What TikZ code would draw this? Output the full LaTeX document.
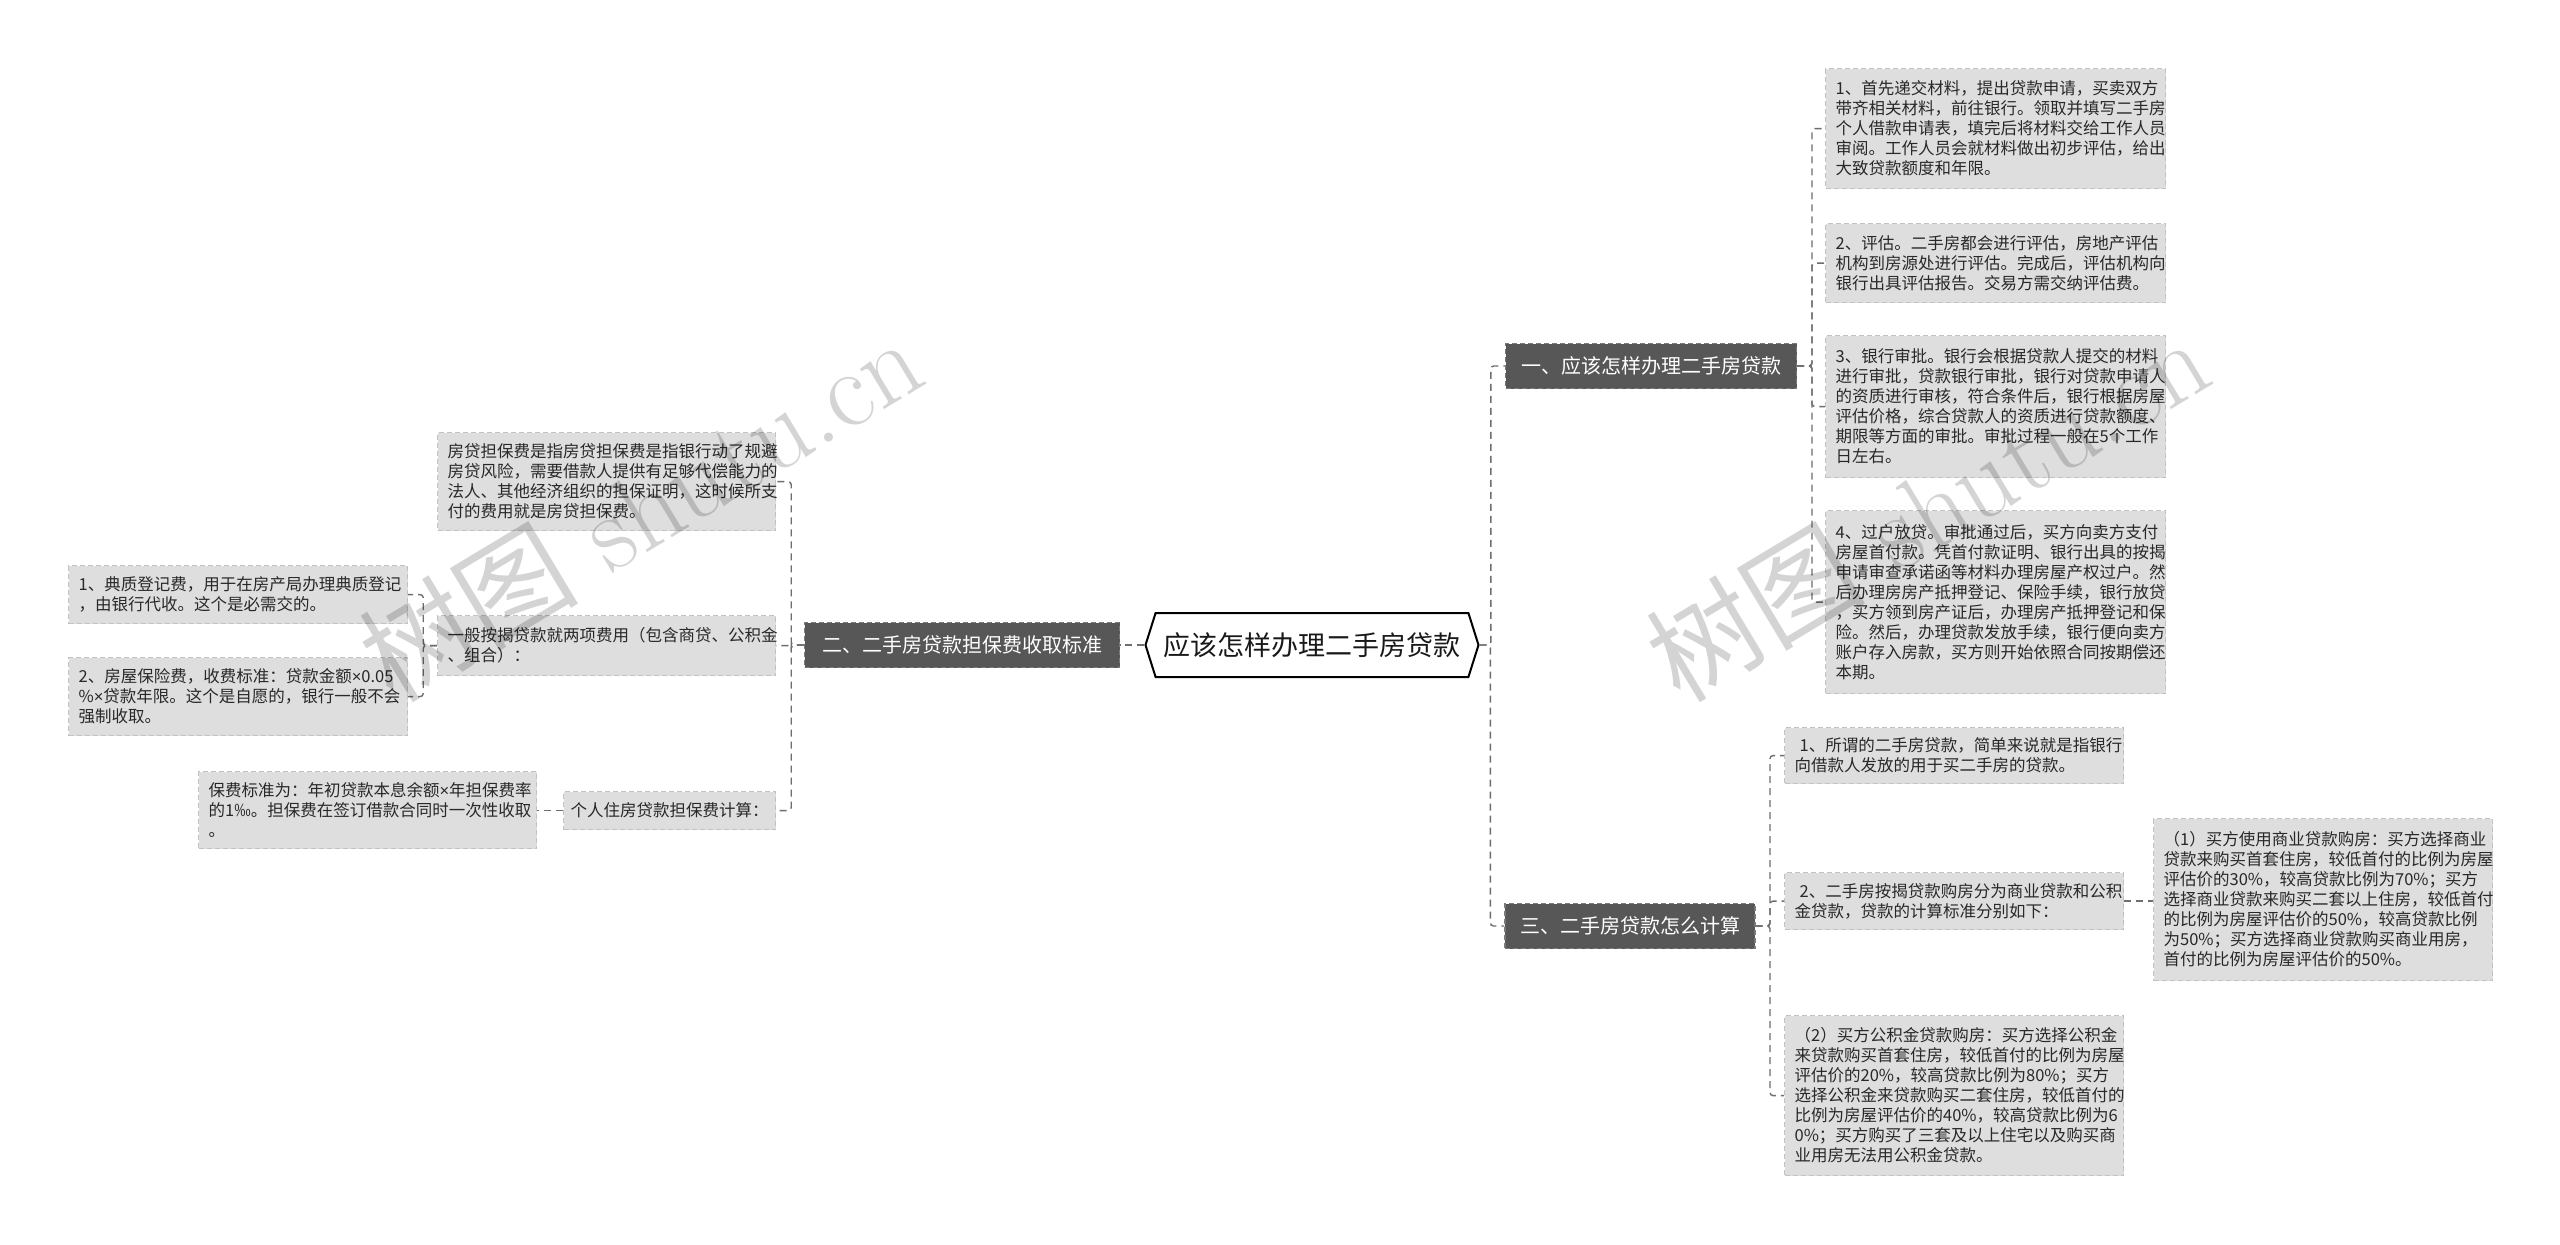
\documentclass[tikz,border=0pt]{standalone}
\usepackage{fontspec}
\newfontfamily\cjk{Noto Sans CJK SC}
\newfontfamily\lat{Liberation Sans}
\newcommand\tms{{\lat ×}}
\usetikzlibrary{shapes.symbols}
\definecolor{leaffill}{HTML}{DEDEDE}
\definecolor{leafline}{HTML}{C2C2C2}
\definecolor{branchfill}{HTML}{575757}
\definecolor{branchline}{HTML}{7A7A7A}
\definecolor{connc}{HTML}{6E6E6E}
\definecolor{leaftext}{HTML}{282828}
\begin{document}
\begin{tikzpicture}[x=1pt,y=-1pt,
  leaf/.style={draw=leafline, dash pattern=on 5pt off 3pt, line width=1.2pt, fill=leaffill,
    inner xsep=10pt, inner ysep=0pt, align=left, anchor=north west, text=leaftext,
    font=\cjk\fontsize{16.5}{20}\selectfont},
  branch/.style={fill=branchfill, draw=branchline, dash pattern=on 5pt off 3pt, line width=1.2pt,
    text=white, inner sep=0pt, minimum height=45pt, font=\cjk\fontsize{20}{24}\selectfont},
  centre/.style={signal, signal to=east and west, signal pointer angle=145, draw=black,
    line width=2pt, fill=white, inner sep=0pt, minimum width=333pt, minimum height=64pt,
    text=black!90, font=\cjk\fontsize{27}{31}\selectfont},
  conn/.style={draw=connc, line width=1.4pt, dash pattern=on 7pt off 5pt, rounded corners=3pt},
  wmark/.style={rotate=31, opacity=0.17, text=black, font=\fontsize{110}{120}\selectfont}
]
\useasboundingbox[fill=white] (0,0) rectangle (2560,1245);

% centre and branches
\node[centre] (ctr) at (1312,645) {应该怎样办理二手房贷款};
\node[branch, minimum width=291pt] (b1) at (1651,366) {一、应该怎样办理二手房贷款};
\node[branch, minimum width=315pt] (b2) at (962,645) {二、二手房贷款担保费收取标准};
\node[branch, minimum width=250pt] (b3) at (1630,926) {三、二手房贷款怎么计算};

% branch 1 leaves
\node[leaf, text width=320pt, minimum height=120pt] (r1) at (1825,68) {1、首先递交材料，提出贷款申请，买卖双方\\带齐相关材料，前往银行。领取并填写二手房\\个人借款申请表，填完后将材料交给工作人员\\审阅。工作人员会就材料做出初步评估，给出\\大致贷款额度和年限。};
\node[leaf, text width=320pt, minimum height=79pt] (r2) at (1825,223) {2、评估。二手房都会进行评估，房地产评估\\机构到房源处进行评估。完成后，评估机构向\\银行出具评估报告。交易方需交纳评估费。};
\node[leaf, text width=320pt, minimum height=142pt] (r3) at (1825,335) {3、银行审批。银行会根据贷款人提交的材料\\进行审批，贷款银行审批，银行对贷款申请人\\的资质进行审核，符合条件后，银行根据房屋\\评估价格，综合贷款人的资质进行贷款额度、\\期限等方面的审批。审批过程一般在5个工作\\日左右。};
\node[leaf, text width=320pt, minimum height=183pt] (r4) at (1825,510) {4、过户放贷。审批通过后，买方向卖方支付\\房屋首付款。凭首付款证明、银行出具的按揭\\申请审查承诺函等材料办理房屋产权过户。然\\后办理房房产抵押登记、保险手续，银行放贷\\，买方领到房产证后，办理房产抵押登记和保\\险。然后，办理贷款发放手续，银行便向卖方\\账户存入房款，买方则开始依照合同按期偿还\\本期。};

% branch 3 leaves
\node[leaf, text width=319pt, minimum height=56pt] (s1) at (1784,727) {\hspace*{5pt}1、所谓的二手房贷款，简单来说就是指银行\\向借款人发放的用于买二手房的贷款。};
\node[leaf, text width=319pt, minimum height=57pt] (s2) at (1784,872) {\hspace*{5pt}2、二手房按揭贷款购房分为商业贷款和公积\\金贷款，贷款的计算标准分别如下：};
\node[leaf, text width=319pt, minimum height=160pt] (s3) at (1784,1015) {（2）买方公积金贷款购房：买方选择公积金\\来贷款购买首套住房，较低首付的比例为房屋\\评估价的20\%，较高贷款比例为80\%；买方\\选择公积金来贷款购买二套住房，较低首付的\\比例为房屋评估价的40\%，较高贷款比例为6\\0\%；买方购买了三套及以上住宅以及购买商\\业用房无法用公积金贷款。};
\node[leaf, text width=319pt, minimum height=162pt] (s2c) at (2153,818) {（1）买方使用商业贷款购房：买方选择商业\\贷款来购买首套住房，较低首付的比例为房屋\\评估价的30\%，较高贷款比例为70\%；买方\\选择商业贷款来购买二套以上住房，较低首付\\的比例为房屋评估价的50\%，较高贷款比例\\为50\%；买方选择商业贷款购买商业用房，\\首付的比例为房屋评估价的50\%。};

% branch 2 leaves
\node[leaf, text width=318pt, minimum height=98pt] (l1) at (437,432) {房贷担保费是指房贷担保费是指银行动了规避\\房贷风险，需要借款人提供有足够代偿能力的\\法人、其他经济组织的担保证明，这时候所支\\付的费用就是房贷担保费。};
\node[leaf, text width=318pt, minimum height=60pt] (l2) at (437,615) {一般按揭贷款就两项费用（包含商贷、公积金\\、组合）：};
\node[leaf, inner xsep=7pt, text width=198pt, minimum height=38pt] (l3) at (563,791) {个人住房贷款担保费计算：};
\node[leaf, text width=319pt, minimum height=58pt] (m1) at (68,565) {1、典质登记费，用于在房产局办理典质登记\\，由银行代收。这个是必需交的。};
\node[leaf, text width=319pt, minimum height=78pt] (m2) at (68,657) {2、房屋保险费，收费标准：贷款金额\tms{}0.05\\\%\tms{}贷款年限。这个是自愿的，银行一般不会\\强制收取。};
\node[leaf, text width=318pt, minimum height=77pt] (l3c) at (198,771) {保费标准为：年初贷款本息余额\tms{}年担保费率\\的1‰。担保费在签订借款合同时一次性收取\\。};

% connectors
\draw[conn] (ctr.west) -- (b2.east);
\draw[conn] (ctr.east) -| ([xshift=-14pt]b1.west) -- (b1.west);
\draw[conn] (ctr.east) -| ([xshift=-14pt]b3.west) -- (b3.west);
\foreach \n in {r1,r2,r3,r4}{\draw[conn] (b1.east) -| ([xshift=-13pt]\n.west) -- (\n.west);}
\foreach \n in {s1,s2,s3}{\draw[conn] (b3.east) -| ([xshift=-14pt]\n.west) -- (\n.west);}
\draw[conn] (s2.east) -- (s2.east -| s2c.west);
\foreach \n in {l1,l2,l3}{\draw[conn] (b2.west) -| ([xshift=15pt]\n.east) -- (\n.east);}
\foreach \n in {m1,m2}{\draw[conn] (l2.west) -| ([xshift=15pt]\n.east) -- (\n.east);}
\draw[conn] (l3.west) -- (l3.west -| l3c.east);

% watermarks
\node[wmark] (wm1) at (640,508) {{\cjk 树图} shutu.cn};
\node[wmark] (wm2) at (1927,508) {{\cjk 树图} shutu.cn};
\end{tikzpicture}
\end{document}
